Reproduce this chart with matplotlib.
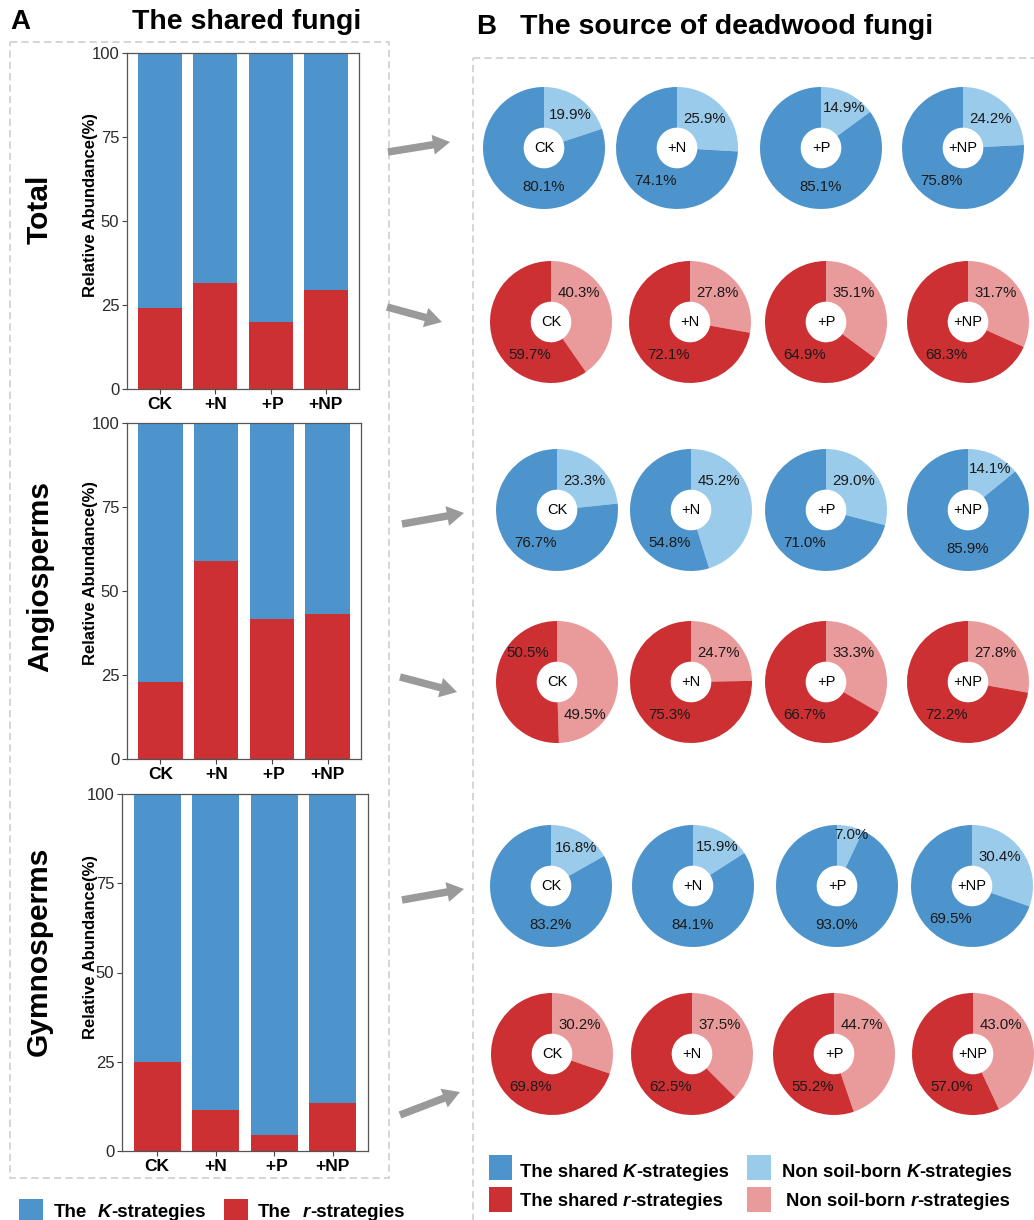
import matplotlib
matplotlib.use("Agg")
import numpy as np
import matplotlib.pyplot as plt
from matplotlib.patches import Rectangle, FancyArrow

plt.rcParams["font.family"] = ["Liberation Sans", "DejaVu Sans"]

W, H = 1034, 1220

treatments = ["CK", "+N", "+P", "+NP"]
tick_labels = ["CK", "+N", " +P", "+NP"]
groups = ["Total", "Angiosperms", "Gymnosperms"]

# shared fungi: relative abundance of r-strategists (%), K-strategists make up the rest
r_total = [24.2, 31.6, 19.9, 29.6]
r_angio = [23.0, 58.8, 41.7, 43.2]
r_gymno = [25.0, 11.4, 4.6, 13.4]

# deadwood fungi: shared part vs non soil-born part (%)
k_shared_total = [80.1, 74.1, 85.1, 75.8]
k_non_total = [19.9, 25.9, 14.9, 24.2]
r_shared_total = [59.7, 72.1, 64.9, 68.3]
r_non_total = [40.3, 27.8, 35.1, 31.7]

k_shared_angio = [76.7, 54.8, 71.0, 85.9]
k_non_angio = [23.3, 45.2, 29.0, 14.1]
r_shared_angio = [50.5, 75.3, 66.7, 72.2]
r_non_angio = [49.5, 24.7, 33.3, 27.8]

k_shared_gymno = [83.2, 84.1, 93.0, 69.5]
k_non_gymno = [16.8, 15.9, 7.0, 30.4]
r_shared_gymno = [69.8, 62.5, 55.2, 57.0]
r_non_gymno = [30.2, 37.5, 44.7, 43.0]

BLUE = "#4E94CC"
RED = "#CC3033"
LBLUE = "#9BCBEB"
LRED = "#E99A9B"
GREY_BOX = "#D2D2D2"
ARROW = "#9A9A9A"

fig = plt.figure(figsize=(W / 100, H / 100), dpi=100)
bg = fig.add_axes([0, 0, 1, 1])
bg.set_xlim(0, W)
bg.set_ylim(H, 0)
bg.axis("off")


def px_axes(x0, y0, x1, y1):
    return fig.add_axes([x0 / W, 1 - y1 / H, (x1 - x0) / W, (y1 - y0) / H])


def rich_text(x, y, parts, size):
    # parts: (text, italic, gap in points before it)
    t = None
    for s, italic, gap in parts:
        style = "italic" if italic else "normal"
        if t is None:
            t = bg.text(x, y, s, fontsize=size, fontweight="bold", fontstyle=style,
                        ha="left", va="baseline")
        else:
            t = bg.annotate(s, xy=(1, 0), xycoords=t, xytext=(gap, 0),
                            textcoords="offset points", fontsize=size,
                            fontweight="bold", fontstyle=style,
                            ha="left", va="bottom")


# ---- dashed frames ----
bg.add_patch(Rectangle((10, 42), 379, 1136, fill=False, ec=GREY_BOX, lw=1.3,
                       ls=(0, (4, 2.3))))
bg.add_patch(Rectangle((473, 58), 620, 1220, fill=False, ec=GREY_BOX, lw=1.3,
                       ls=(0, (4, 2.3))))

# ---- titles ----
bg.text(10, 29, "A", fontsize=20, fontweight="bold", ha="left", va="baseline")
bg.text(247, 29, "The shared fungi", fontsize=20.5, fontweight="bold",
        ha="center", va="baseline")
bg.text(476, 34, "B", fontsize=20, fontweight="bold", ha="left", va="baseline")
bg.text(520, 34, "The source of deadwood fungi", fontsize=20.5,
        fontweight="bold", ha="left", va="baseline")

# ---- A: stacked bars ----
bar_boxes = [(127, 53, 359, 389), (127, 423, 361, 759), (122, 794, 368, 1151)]
row_label_pos = [(40, 209), (40, 577), (39, 951)]
x = np.arange(1, 5)
for grp, r_vals, box, (lx, ly) in zip(groups, [r_total, r_angio, r_gymno],
                                      bar_boxes, row_label_pos):
    r_vals = np.array(r_vals)
    ax = px_axes(*box)
    ax.bar(x, r_vals, width=0.8, color=RED, lw=0)
    ax.bar(x, 100 - r_vals, bottom=r_vals, width=0.8, color=BLUE, lw=0)
    ax.set_xlim(0.4, 4.6)
    ax.set_ylim(0, 100)
    ax.set_yticks([0, 25, 50, 75, 100])
    ax.set_xticks(x, tick_labels)
    for lab in ax.get_xticklabels():
        lab.set_fontweight("bold")
        lab.set_fontsize(12.5)
    for lab in ax.get_yticklabels():
        lab.set_fontsize(12)
        lab.set_color("#2a2a2a")
    ax.tick_params(length=3.5, width=0.8, color="#444444", pad=2)
    for sp in ax.spines.values():
        sp.set_color("#555555")
        sp.set_linewidth(0.9)
    bg.text(90, ly - 4, "Relative Abundance(%)", rotation=90, fontsize=12,
            fontweight="bold", ha="center", va="center")
    bg.text(lx, ly, grp, rotation=90, fontsize=21.5, fontweight="bold",
            ha="center", va="center")

# ---- arrows from bars to pies ----
arrows = [((388, 152), (450, 142)), ((387, 307), (442, 322)),
          ((402, 524), (464, 513)), ((400, 677), (457, 692)),
          ((402, 900), (464, 889)), ((400, 1115), (460, 1092))]
for (x0, y0), (x1, y1) in arrows:
    bg.add_patch(FancyArrow(x0, y0, x1 - x0, y1 - y0, width=7.5, head_width=20,
                            head_length=17, length_includes_head=True,
                            color=ARROW, lw=0))

# ---- B: donut charts ----
pie_rows = [
    (148, [544, 677, 821, 963], k_shared_total, k_non_total, BLUE, LBLUE),
    (322, [551, 690, 826, 968], r_shared_total, r_non_total, RED, LRED),
    (510, [557, 691, 826, 968], k_shared_angio, k_non_angio, BLUE, LBLUE),
    (682, [557, 691, 826, 968], r_shared_angio, r_non_angio, RED, LRED),
    (886, [551, 693, 837, 972], k_shared_gymno, k_non_gymno, BLUE, LBLUE),
    (1054, [552, 692, 834, 973], r_shared_gymno, r_non_gymno, RED, LRED),
]
R = 61
for cy, xs, shared, non, dark, light in pie_rows:
    for cx, trt, sh, nn in zip(xs, treatments, shared, non):
        ax = px_axes(cx - R, cy - R, cx + R, cy + R)
        ax.pie([nn, sh], colors=[light, dark], startangle=90, counterclock=False,
               radius=1, wedgeprops=dict(width=0.667, linewidth=0))
        ax.set_xlim(-1, 1)
        ax.set_ylim(-1, 1)
        ax.patch.set_alpha(0)
        ax.text(0, 0, trt, fontsize=10.5, ha="center", va="center")

        # label angles measured clockwise from 12 o'clock
        light_pct = nn / (nn + sh) * 100
        mid_light = light_pct / 2 * 3.6
        mid_dark = (light_pct + (100 - light_pct) / 2) * 3.6
        if light_pct > 47:
            a_light, rl = mid_light + 51, 43
            a_dark, rd = mid_dark + 46, 41
        else:
            a_light = min(mid_light + 3, 44)
            rl = 40 + max(0, 44 - a_light) * 0.45
            a_dark = 180 if sh > 78 else 213
            rd = 39
        for a, rp, v in [(a_light, rl, nn), (a_dark, rd, sh)]:
            t = np.deg2rad(a)
            ax.text(np.sin(t) * rp / R, np.cos(t) * rp / R, f"{v:.1f}%",
                    fontsize=10.8, color="#1a1a1a", ha="center", va="center")

# ---- legends ----
bg.add_patch(Rectangle((19, 1199), 24, 24, color=BLUE, lw=0))
rich_text(54, 1217, [("The", False, 0), ("K", True, 7.5), ("-strategies", False, 0)], 13.5)
bg.add_patch(Rectangle((224, 1199), 24, 24, color=RED, lw=0))
rich_text(258, 1217, [("The", False, 0), ("r", True, 8.5), ("-strategies", False, 0)], 13.5)

bg.add_patch(Rectangle((489, 1155), 23, 25, color=BLUE, lw=0))
rich_text(520, 1177, [("The shared", False, 0), ("K", True, 3.6), ("-strategies", False, 0)], 13.2)
bg.add_patch(Rectangle((747, 1155), 24, 25, color=LBLUE, lw=0))
rich_text(782, 1177, [("Non soil-born", False, 0), ("K", True, 3.6), ("-strategies", False, 0)], 13.2)
bg.add_patch(Rectangle((489, 1187), 23, 25, color=RED, lw=0))
rich_text(520, 1206, [("The shared", False, 0), ("r", True, 3.6), ("-strategies", False, 0)], 13.2)
bg.add_patch(Rectangle((747, 1187), 24, 25, color=LRED, lw=0))
rich_text(786, 1206, [("Non soil-born", False, 0), ("r", True, 3.6), ("-strategies", False, 0)], 13.2)

fig.savefig("out.png", dpi=100)
